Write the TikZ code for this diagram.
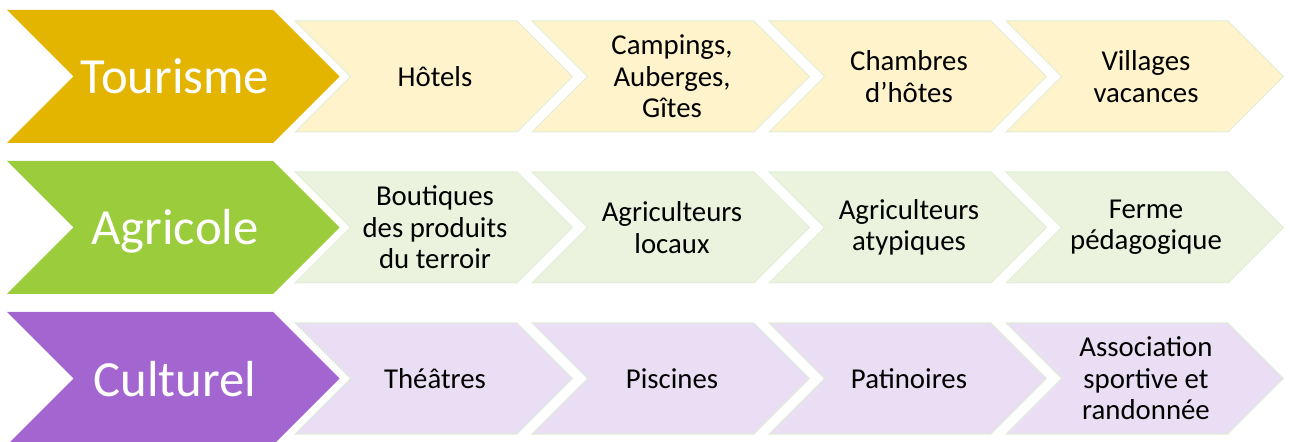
\documentclass[tikz,border=0pt]{standalone}
\usepackage{fontspec}
\setmainfont{Carlito}
\definecolor{tourgold}{RGB}{227,181,0}
\definecolor{tourpale}{RGB}{255,243,204}
\definecolor{agrigreen}{RGB}{155,204,59}
\definecolor{agripale}{RGB}{235,243,222}
\definecolor{cultpurple}{RGB}{163,102,209}
\definecolor{cultpale}{RGB}{234,222,244}
\definecolor{chevronedge}{RGB}{224,238,214}
\tikzset{
  biglabel/.style={anchor=base,text=white,font=\fontsize{38}{42}\selectfont},
  itemlabel/.style={align=center,font=\fontsize{21.6}{23.6}\selectfont}
}
\begin{document}
\begin{tikzpicture}[x=0.75pt,y=-0.75pt]
\useasboundingbox (0,0) rectangle (1290,442);
% rangées : grand chevron coloré puis quatre petits chevrons clairs
\foreach \r/\big/\pale in {0/tourgold/tourpale,1/agrigreen/agripale,2/cultpurple/cultpale} {
    \pgfmathsetmacro\t{10+151*\r}
    \fill[\big] (7,\t) -- ++(266,0) -- ++(66.5,66.5) -- ++(-66.5,66.5) -- ++(-266,0) -- ++(66.5,-66.5) -- cycle;
    \foreach \i in {0,...,3} {
        \pgfmathsetmacro\x{295+237*\i}
        \filldraw[fill=\pale,draw=chevronedge,line width=0.75pt] (\x,\t+11) -- ++(222,0) -- ++(55.5,55.5) -- ++(-55.5,55.5) -- ++(-222,0) -- ++(55.5,-55.5) -- cycle;
    }
}

\node[biglabel] (tourisme) at (175,94) {Tourisme};
\node[biglabel] (agricole) at (175,245) {Agricole};
\node[biglabel] (culturel) at (175,396) {Culturel};

\node[itemlabel] (hotels) at (435,76.5) {Hôtels};
\node[itemlabel] (campings) at (672,76.5) {Campings,\\Auberges,\\Gîtes};
\node[itemlabel] (chambres) at (909,76.5) {Chambres\\d’hôtes};
\node[itemlabel] (villages) at (1146,76.5) {Villages\\vacances};

\node[itemlabel] (boutiques) at (435,227.5) {Boutiques\\des produits\\du terroir};
\node[itemlabel] (locaux) at (672,227.5) {Agriculteurs\\locaux};
\node[itemlabel] (atypiques) at (909,227.5) {Agriculteurs\\atypiques};
\node[itemlabel] (ferme) at (1146,227.5) {Ferme\\pédagogique};

\node[itemlabel] (theatres) at (435,378.5) {Théâtres};
\node[itemlabel] (piscines) at (672,378.5) {Piscines};
\node[itemlabel] (patinoires) at (909,378.5) {Patinoires};
\node[itemlabel] (association) at (1146,378.5) {Association\\sportive et\\randonnée};
\end{tikzpicture}
\end{document}
